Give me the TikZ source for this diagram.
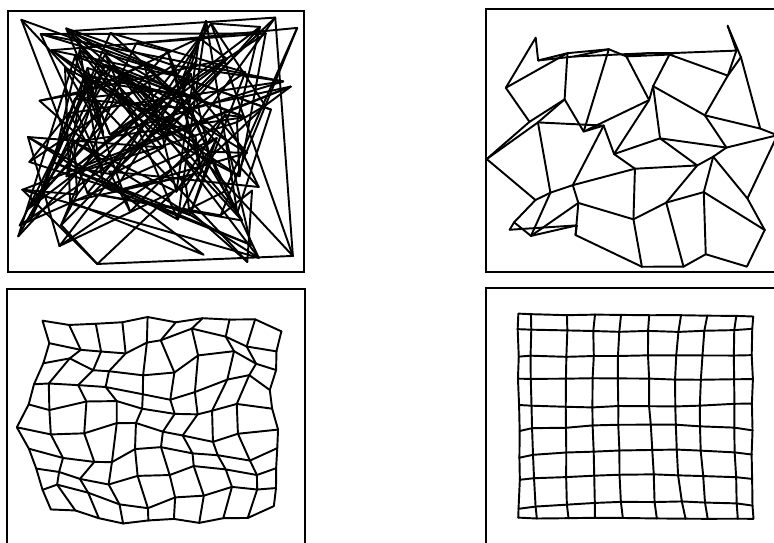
\documentclass[tikz,border=0pt]{standalone}
\tikzset{
    mapline/.style={line width=0.55pt, line join=round, line cap=round},
    panel/.style={line width=0.6pt}
}
\begin{document}
\begin{tikzpicture}[x=0.01cm, y=-0.01cm]
    \useasboundingbox (0,0) rectangle (774,542);
    \clip (0,0) rectangle (774,542);
    \pgfmathsetseed{11}
    \draw[panel] (8,11) rectangle (304,272);
    \draw[panel] (486,9) rectangle (790,272);
    \draw[panel] (7,289) rectangle (305,560);
    \draw[panel] (486,288) rectangle (790,560);
    % initial random weights
    \foreach \i in {0,...,9}
        \foreach \j in {0,...,9}{
            \pgfmathsetmacro{\px}{18+282*rnd}
            \pgfmathsetmacro{\py}{16+252*rnd}
            \coordinate (a-\i-\j) at (\px,\py);
        }
    \foreach \i in {0,...,9}
        \foreach \j [count=\k] in {0,...,8}
            \draw[mapline] (a-\i-\j) -- (a-\i-\k) (a-\j-\i) -- (a-\k-\i);
    % first ordering
    \foreach \i in {0,...,6}
        \foreach \j in {0,...,6}{
            \pgfmathsetmacro{\px}{512+\j*40+26*rand}
            \pgfmathsetmacro{\py}{38+\i*35+24*rand}
            \coordinate (b-\i-\j) at (\px,\py);
        }
    \foreach \i in {0,...,6}
        \foreach \j [count=\k] in {0,...,5}
            \draw[mapline] (b-\i-\j) -- (b-\i-\k) (b-\j-\i) -- (b-\k-\i);
    % unfolding
    \foreach \i in {0,...,9}
        \foreach \j in {0,...,9}{
            \pgfmathsetmacro{\xl}{{41.7,48.3,43.3,35,30,18.3,30,36.7,41.7,50}[\i]}
            \pgfmathsetmacro{\xr}{{281.7,275,276.7,268.3,272,276.7,278.3,276.7,275,273.3}[\i]}
            \pgfmathsetmacro{\yt}{{321.7,326,325,323.3,317.3,323.3,317.3,318.3,320,331.7}[\j]}
            \pgfmathsetmacro{\yb}{{510,511.7,516.7,522.7,521.7,520,521.7,518,516.7,506.7}[\j]}
            \pgfmathsetmacro{\inner}{(\i>0)*(\i<9)*(\j>0)*(\j<9)}
            \pgfmathsetmacro{\px}{\xl+(\xr-\xl)*\j/9+\inner*(9*sin(70*\i+35*\j+20)+5*rand)+1.5*rand}
            \pgfmathsetmacro{\py}{\yt+(\yb-\yt)*\i/9+\inner*(8*sin(55*\j-60*\i+10)+4*rand)+1.5*rand}
            \coordinate (c-\i-\j) at (\px,\py);
        }
    \foreach \i in {0,...,9}
        \foreach \j [count=\k] in {0,...,8}
            \draw[mapline] (c-\i-\j) -- (c-\i-\k) (c-\j-\i) -- (c-\k-\i);
    % converged map
    \foreach \i in {0,...,9}
        \foreach \j in {0,...,9}{
            \pgfmathsetmacro{\fs}{\j/9}
            \pgfmathsetmacro{\ft}{\i/9}
            \pgfmathsetmacro{\xa}{{517.7,531.7,567.7,594.3,621,649,681.7,707.7,735.7,753.3}[\j]}
            \pgfmathsetmacro{\xm}{{519,531,566,593,618,650,675,700,734,752}[\j]}
            \pgfmathsetmacro{\xb}{{519,537.3,568.3,595,623.3,656.7,685,708.3,738.3,753.3}[\j]}
            \pgfmathsetmacro{\ya}{{314.3,329,356.7,379,405,431,458.3,480,508.3,518.3}[\i]}
            \pgfmathsetmacro{\ym}{{315,331.7,355.7,379,406.7,425,450,475,501.7,518.3}[\i]}
            \pgfmathsetmacro{\yb}{{316.7,329,355,379,403.3,430,455,478.3,505,518.3}[\i]}
            \pgfmathsetmacro{\px}{\xa*(1-\ft)*(1-2*\ft)+4*\xm*\ft*(1-\ft)+\xb*\ft*(2*\ft-1)+0.8*rand}
            \pgfmathsetmacro{\py}{\ya*(1-\fs)*(1-2*\fs)+4*\ym*\fs*(1-\fs)+\yb*\fs*(2*\fs-1)+0.8*rand}
            \coordinate (d-\i-\j) at (\px,\py);
        }
    \foreach \i in {0,...,9}
        \foreach \j [count=\k] in {0,...,8}
            \draw[mapline] (d-\i-\j) -- (d-\i-\k) (d-\j-\i) -- (d-\k-\i);
\end{tikzpicture}
\end{document}
